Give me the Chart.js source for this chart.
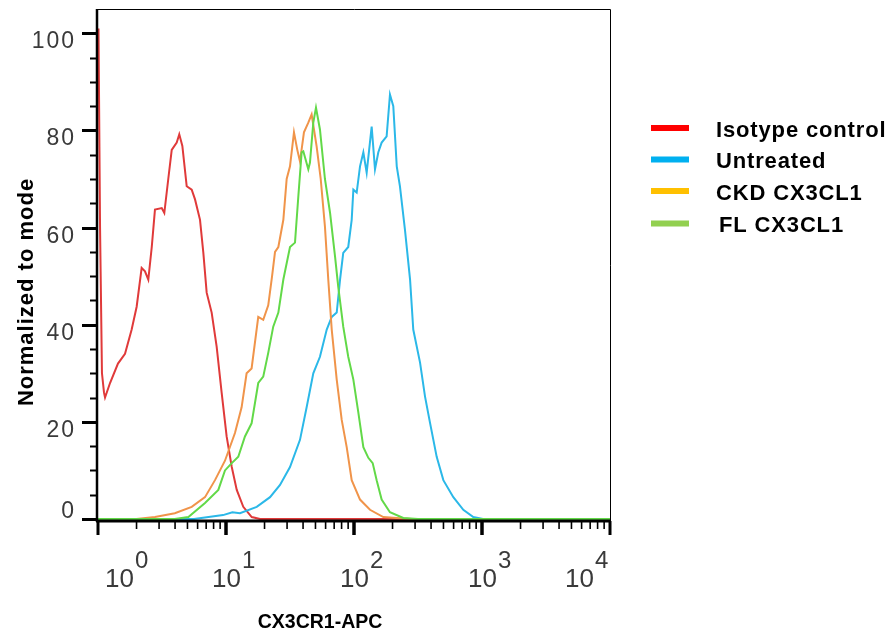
<!DOCTYPE html>
<html>
<head>
<meta charset="utf-8">
<script src="https://cdn.jsdelivr.net/npm/chart.js@4.4.1/dist/chart.umd.min.js"></script>
<style>
  html, body { margin: 0; padding: 0; background: #fff; }
  canvas { display: block; }
</style>
</head>
<body>
<canvas id="histo" width="896" height="634"></canvas>
<script>
// positions are log10 decades of CX3CR1-APC intensity, values are % of mode
const isoDecades = [0.004, 0.016, 0.031, 0.047, 0.055, 0.094, 0.156, 0.211, 0.263, 0.302, 0.341, 0.367, 0.393, 0.42, 0.445, 0.498, 0.518, 0.549, 0.576, 0.615, 0.635, 0.659, 0.693, 0.732, 0.758, 0.797, 0.823, 0.849, 0.888, 0.927, 0.966, 1.005, 1.045, 1.084, 1.135, 1.201, 1.266, 4];
const isoValues = [101, 60, 30, 26, 25, 28, 32, 34, 39, 43.7, 51.7, 51, 49.3, 56, 63.7, 64, 63, 70, 76, 77.5, 79.2, 76.8, 68.5, 67.8, 65.8, 61.6, 54.8, 46.6, 42.5, 35.5, 26, 17, 10.7, 6, 2.5, 0.4, 0, 0];

const untreatedDecades = [0, 0.75, 0.977, 1.05, 1.109, 1.24, 1.344, 1.422, 1.5, 1.578, 1.63, 1.682, 1.734, 1.787, 1.826, 1.865, 1.891, 1.916, 1.955, 1.982, 1.995, 2.021, 2.047, 2.073, 2.099, 2.138, 2.164, 2.19, 2.216, 2.255, 2.281, 2.307, 2.334, 2.359, 2.398, 2.438, 2.463, 2.516, 2.555, 2.594, 2.646, 2.698, 2.776, 2.854, 2.932, 3.008, 4];
const untreatedValues = [0, 0, 0.8, 1.4, 1.2, 2.5, 4.5, 7, 10.7, 16.3, 23, 30, 33.4, 39, 41.6, 42.5, 49.3, 54.8, 56, 61.6, 67.8, 67.2, 72.6, 75.5, 71.3, 80.8, 72, 75.5, 77.5, 78.8, 87.4, 85, 72.6, 68.5, 59.6, 49.3, 39, 32.2, 25.2, 19.8, 12.8, 8, 4.5, 1.9, 0.4, 0, 0];

const ckdDecades = [0, 0.3, 0.445, 0.6, 0.732, 0.836, 0.914, 0.992, 1.07, 1.122, 1.161, 1.2, 1.252, 1.291, 1.33, 1.36, 1.383, 1.409, 1.448, 1.474, 1.5, 1.531, 1.557, 1.578, 1.609, 1.643, 1.669, 1.708, 1.74, 1.773, 1.799, 1.826, 1.865, 1.904, 1.943, 1.982, 2.047, 2.125, 2.229, 2.333, 2.45, 4];
const ckdValues = [0, 0, 0.4, 1.2, 2.5, 4.5, 8, 12, 17.7, 23, 30, 31, 41.6, 41, 44, 50, 55, 56, 61.6, 70, 72.6, 79.6, 76, 73.6, 79.6, 81.6, 83.3, 76.7, 70, 60.2, 49.3, 39, 28.7, 20.4, 14.8, 8, 4, 1.9, 0.4, 0.2, 0, 0];

const flDecades = [0, 0.6, 0.706, 0.836, 0.94, 0.992, 1.045, 1.096, 1.148, 1.2, 1.252, 1.291, 1.33, 1.369, 1.409, 1.448, 1.5, 1.539, 1.565, 1.591, 1.604, 1.643, 1.656, 1.682, 1.703, 1.734, 1.773, 1.813, 1.852, 1.877, 1.916, 1.955, 1.995, 2.034, 2.073, 2.112, 2.146, 2.177, 2.216, 2.281, 2.385, 2.5, 4];
const flValues = [0, 0, 0.4, 3.3, 6, 10, 11.5, 12.8, 17, 19.7, 28, 29.3, 34.2, 39.6, 42.5, 49.3, 56, 56.9, 66.4, 75.5, 75.7, 72, 73.4, 81.6, 84.7, 80.2, 70, 63, 54, 47.8, 39.6, 33.4, 28.7, 21.9, 14.8, 12.6, 11.5, 8, 4, 1.4, 0.2, 0, 0];

const seriesNames = ['Isotype control', 'Untreated', 'CKD CX3CL1', 'FL CX3CL1'];
const lineColors = ['#e03a3a', '#2bb8e8', '#f0944a', '#62d948'];
const legendColors = ['#ff0000', '#00b0f0', '#ffc000', '#92d050'];
const yTickValues = [0, 20, 40, 60, 80, 100];
const xDecadeTicks = [0, 1, 2, 3, 4];

const FONT = '"Liberation Sans", Arial, sans-serif';

function toPoints(decades, values) {
  return decades.map((d, i) => ({ x: Math.pow(10, d), y: values[i] }));
}

const allDecades = [isoDecades, untreatedDecades, ckdDecades, flDecades];
const allValues = [isoValues, untreatedValues, ckdValues, flValues];
const drawOrder = [3, 2, 1, 0]; // green ends up on top

const datasets = seriesNames.map((name, i) => ({
  label: name,
  data: toPoints(allDecades[i], allValues[i]),
  borderColor: lineColors[i],
  borderWidth: 2,
  pointRadius: 0,
  tension: 0,
  fill: false,
  clip: false,
  order: drawOrder[i]
}));

// axis frame, tick marks and tick labels
const axisDeco = {
  id: 'axisDeco',
  afterDraw(chart) {
    const { ctx, chartArea: a, scales } = chart;
    const xs = scales.x, ys = scales.y;
    ctx.save();
    ctx.strokeStyle = '#000';

    // thin top / right frame
    ctx.lineWidth = 1;
    ctx.beginPath();
    ctx.moveTo(a.left, a.top + 0.5);
    ctx.lineTo(a.right + 0.5, a.top + 0.5);
    ctx.lineTo(a.right + 0.5, a.bottom + 2);
    ctx.stroke();

    // thick left and bottom axes
    ctx.lineWidth = 2.5;
    ctx.beginPath();
    ctx.moveTo(a.left - 1, a.top);
    ctx.lineTo(a.left - 1, a.bottom + 3);
    ctx.stroke();
    ctx.lineWidth = 3;
    ctx.beginPath();
    ctx.moveTo(a.left - 2, a.bottom + 2);
    ctx.lineTo(a.right + 1, a.bottom + 2);
    ctx.stroke();

    // y ticks every 5, long ones every 20
    for (let v = 0; v <= 100; v += 5) {
      const py = Math.round(ys.getPixelForValue(v)) + 0.5;
      const major = v % 20 === 0;
      ctx.lineWidth = major ? 3 : 2;
      ctx.beginPath();
      ctx.moveTo(a.left - (major ? 16 : 8), py);
      ctx.lineTo(a.left - 1, py);
      ctx.stroke();
    }

    // x ticks, decades long
    for (let k = 0; k < 4; k++) {
      for (let m = 1; m <= 10; m++) {
        const v = m * Math.pow(10, k);
        const px = xs.getPixelForValue(v);
        const major = m === 1 || m === 10;
        ctx.lineWidth = major ? 3 : 1.6;
        ctx.beginPath();
        ctx.moveTo(px, a.bottom + 2);
        ctx.lineTo(px, a.bottom + (major ? 16 : 10));
        ctx.stroke();
      }
    }

    // y tick labels
    ctx.fillStyle = '#3a3a3a';
    ctx.font = '23px ' + FONT;
    ctx.letterSpacing = '2px';
    ctx.textAlign = 'right';
    ctx.textBaseline = 'alphabetic';
    yTickValues.forEach(v => {
      const py = ys.getPixelForValue(v);
      ctx.fillText(String(v), 76, v === 0 ? py - 1 : py + 15);
    });
    ctx.letterSpacing = '0px';

    // x tick labels 10^k
    ctx.textAlign = 'left';
    xDecadeTicks.forEach((k, i) => {
      const px = xs.getPixelForValue(Math.pow(10, k));
      let ox = px - 14;
      if (i === 0) ox = px + 7;
      if (i === xDecadeTicks.length - 1) ox = px - 45;
      ctx.font = '26px ' + FONT;
      ctx.fillText('10', ox, 587);
      const w = ctx.measureText('10').width;
      ctx.font = '24px ' + FONT;
      ctx.fillText(String(k), ox + w + 1, 568);
    });

    // axis titles
    ctx.fillStyle = '#000';
    ctx.font = 'bold 19.5px ' + FONT;
    ctx.textAlign = 'center';
    ctx.fillText('CX3CR1-APC', 320, 628);

    ctx.save();
    ctx.translate(33, 292);
    ctx.rotate(-Math.PI / 2);
    ctx.font = 'bold 22px ' + FONT;
    ctx.letterSpacing = '1px';
    ctx.fillText('Normalized to mode', 0, 0);
    ctx.restore();

    ctx.restore();
  }
};

// legend on the right
const sideLegend = {
  id: 'sideLegend',
  afterDraw(chart) {
    const ctx = chart.ctx;
    const rowY = [128, 159.5, 191, 223.5];
    const baseY = [137, 167.5, 200, 232];
    const textX = [716, 716, 716, 719];
    ctx.save();
    chart.data.datasets.forEach((ds, i) => {
      ctx.fillStyle = legendColors[i];
      ctx.fillRect(651, rowY[i] - 3, 38, 6);
      ctx.fillStyle = '#000';
      ctx.font = 'bold 22px ' + FONT;
      ctx.letterSpacing = '0.85px';
      ctx.textAlign = 'left';
      ctx.fillText(ds.label, textX[i], baseY[i]);
    });
    ctx.restore();
  }
};

new Chart(document.getElementById('histo'), {
  type: 'line',
  data: { datasets: datasets },
  options: {
    responsive: false,
    animation: false,
    devicePixelRatio: 1,
    layout: { padding: { top: 9, right: 286, left: 0, bottom: 0 } },
    plugins: {
      legend: { display: false },
      tooltip: { enabled: false }
    },
    scales: {
      x: {
        type: 'logarithmic',
        min: 1,
        max: 10000,
        grid: { display: false },
        border: { display: false },
        ticks: { display: false },
        afterFit(s) { s.height = 115; }
      },
      y: {
        type: 'linear',
        min: 0,
        max: 105,
        grid: { display: false },
        border: { display: false },
        ticks: { display: false },
        afterFit(s) { s.width = 98; }
      }
    }
  },
  plugins: [axisDeco, sideLegend]
});
</script>
</body>
</html>
